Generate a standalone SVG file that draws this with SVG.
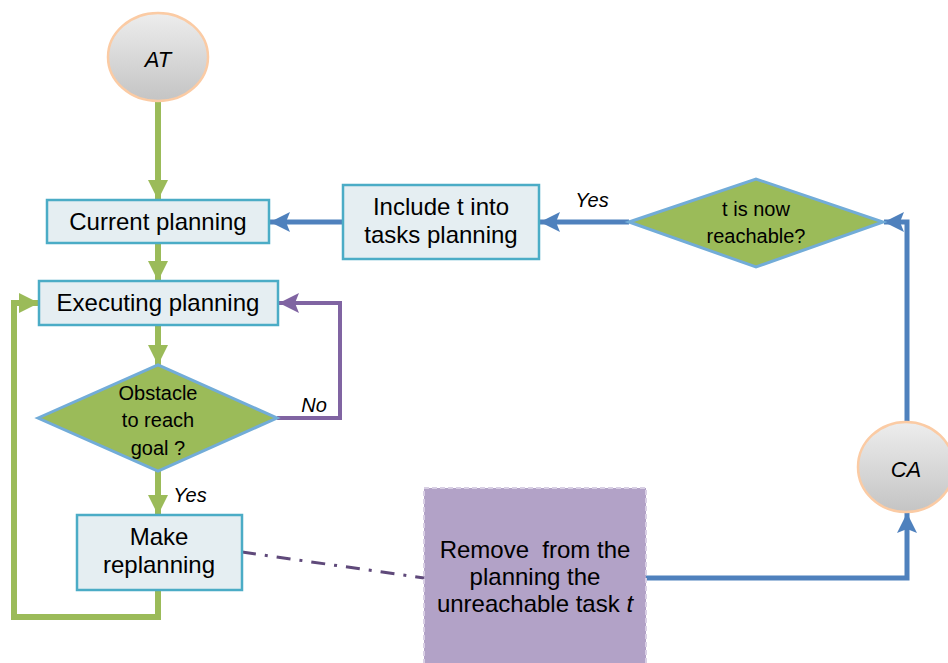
<svg xmlns="http://www.w3.org/2000/svg" width="948" height="663" viewBox="0 0 948 663">
  <defs>
    <linearGradient id="ballFill" x1="0" y1="0" x2="0" y2="1">
      <stop offset="0" stop-color="#ededed"/>
      <stop offset="1" stop-color="#c4c4c4"/>
    </linearGradient>
    <marker id="arrGreen" markerUnits="userSpaceOnUse" markerWidth="22" markerHeight="22" viewBox="0 0 22 22" refX="20" refY="11" orient="auto">
      <path d="M0,1 L20,11 L0,21 z" fill="#9bbb59"/>
    </marker>
    <marker id="arrBlue" markerUnits="userSpaceOnUse" markerWidth="22" markerHeight="22" viewBox="0 0 22 22" refX="20" refY="11" orient="auto">
      <path d="M0,1 L20,11 L0,21 L4,11 z" fill="#4f81bd"/>
    </marker>
    <marker id="arrPurple" markerUnits="userSpaceOnUse" markerWidth="22" markerHeight="22" viewBox="0 0 22 22" refX="20" refY="11" orient="auto">
      <path d="M0,1 L20,11 L0,21 L4,11 z" fill="#8064a2"/>
    </marker>
  </defs>
  <style>
    .box { fill: #e5eef2; stroke: #4bacc6; stroke-width: 2.5; }
    .dia { fill: #9bbb59; stroke: #72acd8; stroke-width: 3; }
    .ball { fill: url(#ballFill); stroke: #fbcba4; stroke-width: 2.5; }
    .t { font-family: "Liberation Sans", Arial, sans-serif; fill: #000; text-anchor: middle; white-space: pre; }
    .big { font-size: 24px; }
    .mid { font-size: 20px; }
    .lbl { font-size: 22px; }
    .it { font-style: italic; }
    .g { fill: none; stroke: #9bbb59; stroke-width: 6; }
    .b { fill: none; stroke: #4f81bd; stroke-width: 5; }
    .p { fill: none; stroke: #8064a2; stroke-width: 4; }
  </style>
  <rect width="948" height="663" fill="#ffffff"/>

  <!-- connectors -->
  <g id="connectors">
    <path class="g" d="M158,101 V200" marker-end="url(#arrGreen)"/>
    <path class="g" d="M158,244 V281" marker-end="url(#arrGreen)"/>
    <path class="g" d="M158,326 V365" marker-end="url(#arrGreen)"/>
    <path class="g" d="M158,471 V515" marker-end="url(#arrGreen)"/>
    <path class="g" d="M158,591 V617 H14 V303 H39" marker-end="url(#arrGreen)"/>
    <path class="p" d="M277,418 H340 V303 H279" marker-end="url(#arrPurple)"/>
    <path class="b" d="M343,222 H270" marker-end="url(#arrBlue)"/>
    <path class="b" d="M629,222 H540" marker-end="url(#arrBlue)"/>
    <path class="b" d="M907,423 V222 H884" marker-end="url(#arrBlue)"/>
    <path class="b" d="M646,578 H907 V513" marker-end="url(#arrBlue)"/>
    <path d="M242,552 L424,578" fill="none" stroke="#5f497a" stroke-width="3" stroke-dasharray="14 9 3 9"/>
    <text class="t mid it" x="592" y="207">Yes</text>
    <text class="t mid it" x="314" y="412">No</text>
    <text class="t mid it" x="190" y="502">Yes</text>
  </g>

  <g id="node-at">
    <ellipse class="ball" cx="158" cy="57" rx="50" ry="44"/>
    <text class="t lbl it" x="158" y="67">AT</text>
  </g>

  <g id="node-current">
    <rect class="box" x="47" y="200" width="222" height="43"/>
    <text class="t big" x="158" y="230">Current planning</text>
  </g>

  <g id="node-executing">
    <rect class="box" x="39" y="281" width="239" height="44"/>
    <text class="t big" x="158" y="311">Executing planning</text>
  </g>

  <g id="node-obstacle">
    <polygon class="dia" points="38,418 158,365 277,418 158,471"/>
    <text class="t mid" x="158" y="400">Obstacle</text>
    <text class="t mid" x="158" y="427">to reach</text>
    <text class="t mid" x="158" y="455">goal ?</text>
  </g>

  <g id="node-replanning">
    <rect class="box" x="77" y="515" width="165" height="75"/>
    <text class="t big" x="159" y="545">Make</text>
    <text class="t big" x="159" y="573">replanning</text>
  </g>

  <g id="node-include">
    <rect class="box" x="343" y="185" width="196" height="74"/>
    <text class="t big" x="441" y="215">Include t into</text>
    <text class="t big" x="441" y="243">tasks planning</text>
  </g>

  <g id="node-reachable">
    <polygon class="dia" points="629,222 756,179 883,222 756,267"/>
    <text class="t mid" x="756" y="216">t is now</text>
    <text class="t mid" x="756" y="243">reachable?</text>
  </g>

  <g id="node-ca">
    <ellipse class="ball" cx="906" cy="467" rx="48" ry="45"/>
    <text class="t lbl it" x="906" y="477">CA</text>
  </g>

  <g id="node-remove">
    <rect x="424" y="488" width="222" height="190" fill="#b2a2c7" stroke="#d8cfe4" stroke-width="2" stroke-dasharray="5 3"/>
    <text class="t big" x="535" y="558" xml:space="preserve">Remove  from the</text>
    <text class="t big" x="535" y="585">planning the</text>
    <text class="t big" x="535" y="612">unreachable task <tspan class="it">t</tspan></text>
  </g>
</svg>
